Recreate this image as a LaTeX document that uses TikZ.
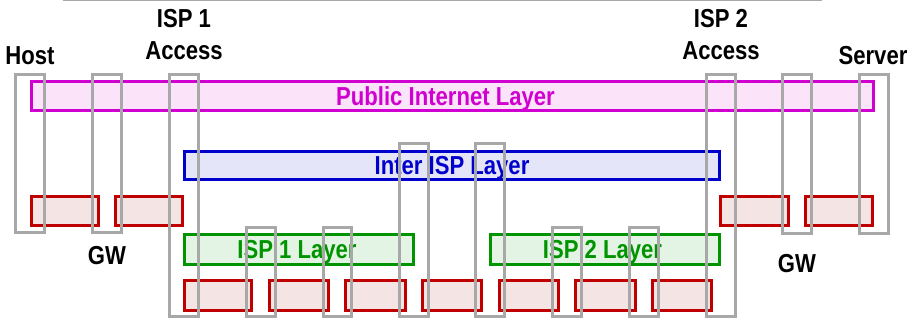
\documentclass[tikz,border=0pt]{standalone}
\usepackage{fontspec}
\setsansfont{Liberation Sans}[FakeStretch=0.85]
\usetikzlibrary{fit}

\definecolor{publine}{HTML}{D000D0}
\definecolor{pubfill}{HTML}{FBE4FA}
\definecolor{interline}{HTML}{0000CC}
\definecolor{interfill}{HTML}{E4E5F8}
\definecolor{ispline}{HTML}{009400}
\definecolor{ispfill}{HTML}{E4F4E4}
\definecolor{devline}{HTML}{C00000}
\definecolor{devfill}{HTML}{F5E4E4}
\definecolor{colline}{HTML}{A8A8A8}

\newcommand*{\rowtop}{196.3}
\newcommand*{\rowbot}{225.7}
\newcommand*{\lowtop}{280.3}
\newcommand*{\lowbot}{310.7}

\begin{document}
\begin{tikzpicture}
[
	x=1pt,
	y=-1pt,
	every node/.style={font=\sffamily\bfseries\fontsize{26}{32}\selectfont},
	layer/.style={draw,line width=2.6pt,inner sep=0pt},
	layertext/.style={inner sep=0pt,text depth=0pt},
	device/.style={draw=devline,fill=devfill,line width=2.6pt,inner sep=0pt},
	column/.style={draw=colline,line width=2.6pt,inner sep=0pt},
	tag/.style={inner sep=0pt,align=center}
]

	\useasboundingbox (0,0) rectangle (911,320);

	% rule across the top
	\coordinate (ruleL) at (63,0.6);
	\coordinate (ruleR) at (822,0.6);
	\draw[colline,line width=1.4pt] (ruleL) -- (ruleR);

	% layers
	\node[layer,draw=publine,fill=pubfill,fit={(31.3,81.3) (873.7,110.7)}] (pub) {};
	\node[layer,draw=interline,fill=interfill,fit={(184.3,151.3) (719.7,179.7)}] (inter) {};
	\node[layer,draw=ispline,fill=ispfill,fit={(184.3,234.3) (413.7,264.7)}] (isp1) {};
	\node[layer,draw=ispline,fill=ispfill,fit={(490.3,234.3) (719.7,264.7)}] (isp2) {};

	\node[layertext,text=publine] (pubtxt) at ([xshift=-7pt]pub.center) {Public Internet Layer};
	\node[layertext,text=interline] (intertxt) at (inter.center) {Inter ISP Layer};
	\node[layertext,text=ispline] (isp1txt) at ([xshift=-2pt]isp1.center) {ISP 1 Layer};
	\node[layertext,text=ispline] (isp2txt) at ([xshift=-2.5pt]isp2.center) {ISP 2 Layer};

	% devices, upper row
	\foreach \l/\r/\n in {31.3/98.7/a, 115.3/182.7/b, 720.3/788.7/c, 805.3/872.7/d}
		\node[device,fit={(\l,\rowtop) (\r,\rowbot)}] (dev\n) {};

	% devices, lower row
	\foreach \l/\r/\n in {184.3/251.7/1, 269.3/328.7/2, 345.3/405.7/3, 422.3/481.7/4,
		499.3/558.7/5, 575.3/635.7/6, 652.3/711.7/7}
		\node[device,fit={(\l,\lowtop) (\r,\lowbot)}] (low\n) {};

	% stacks through the layers
	\foreach \l/\t/\r/\b/\n in {15.3/74.3/44.7/232.7/host, 92.3/74.3/121.7/232.7/gwa,
		169.3/74.3/198.7/316.7/acca, 246.3/227.3/275.7/316.7/ra, 323.3/227.3/351.7/316.7/rb,
		399.3/143.3/428.7/316.7/xa, 475.3/143.3/504.7/316.7/xb, 552.3/227.3/581.7/316.7/rc,
		629.3/227.3/658.7/316.7/rd, 706.3/74.3/735.7/316.7/accb,
		782.3/74.3/811.7/233.7/gwb, 859.3/74.3/888.7/233.7/server}
		\node[column,fit={(\l,\t) (\r,\b)}] (col\n) {};

	% labels
	\node[tag,anchor=base] (hosttxt) at (30,65) {Host};
	\node[tag,anchor=base] (servertxt) at (873,65) {Server};
	\node[tag,anchor=south] (accatxt) at (184,60) {ISP 1\\Access};
	\node[tag,anchor=south] (accbtxt) at (721,60) {ISP 2\\Access};
	\node[tag,anchor=base] (gwatxt) at (107,265) {GW};
	\node[tag,anchor=base] (gwbtxt) at (797,273) {GW};

\end{tikzpicture}
\end{document}
